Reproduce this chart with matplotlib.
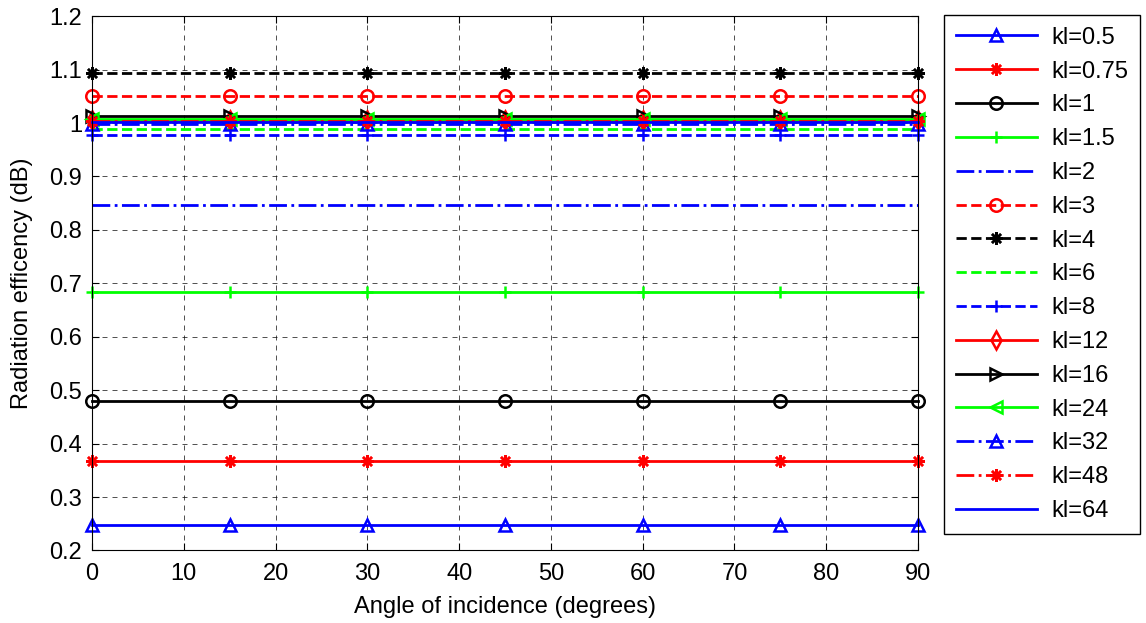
import matplotlib
matplotlib.use('Agg')
import matplotlib.pyplot as plt
import numpy as np

plt.rcParams['font.family'] = ['Liberation Sans', 'DejaVu Sans']
plt.rcParams['font.size'] = 17

# angles of incidence (degrees)
angles = [0, 15, 30, 45, 60, 75, 90]

# radiation efficiency per kl (constant over angle)
kl_labels = ['kl=0.5', 'kl=0.75', 'kl=1', 'kl=1.5', 'kl=2', 'kl=3', 'kl=4', 'kl=6',
             'kl=8', 'kl=12', 'kl=16', 'kl=24', 'kl=32', 'kl=48', 'kl=64']
kl_values = [0.248, 0.368, 0.479, 0.684, 0.847, 1.050, 1.093, 0.988,
             0.977, 1.006, 1.014, 1.008, 0.999, 1.004, 1.002]

ast = (8, 2, 0)  # MATLAB-like asterisk
# MATLAB-like styles: (color, linestyle, marker)
styles = [
    ('#0000ff', '-', '^'),
    ('#ff0000', '-', ast),
    ('#000000', '-', 'o'),
    ('#00ff00', '-', '+'),
    ('#0000ff', '-.', None),
    ('#ff0000', '--', 'o'),
    ('#000000', '--', ast),
    ('#00ff00', '--', None),
    ('#0000ff', '--', '+'),
    ('#ff0000', '-', 'd'),
    ('#000000', '-', '>'),
    ('#00ff00', '-', '<'),
    ('#0000ff', '-.', '^'),
    ('#ff0000', '-.', ast),
    ('#0000ff', '-', None),
]

fig = plt.figure(figsize=(11.46, 6.23), dpi=100)
ax = fig.add_axes([0.0803, 0.1164, 0.7208, 0.8576])

for lab, val, (c, ls, mk) in zip(kl_labels, kl_values, styles):
    ax.plot(angles, [val] * len(angles), color=c, linestyle=ls, marker=mk,
            markersize=9, markerfacecolor='none', markeredgecolor=c,
            markeredgewidth=1.8, linewidth=2, label=lab, clip_on=False)

ax.set_xlim(0, 90)
ax.set_ylim(0.2, 1.2)
ax.set_xticks(np.arange(0, 91, 10))
ax.set_yticks(np.arange(0.2, 1.21, 0.1))
ax.set_yticklabels(['0.2', '0.3', '0.4', '0.5', '0.6', '0.7', '0.8', '0.9', '1', '1.1', '1.2'])
ax.grid(True, color='black', linestyle=(0, (6, 6)), linewidth=0.6, alpha=0.8)
ax.tick_params(direction='in', length=5, top=True, right=True, labelsize=17)
ax.tick_params(axis='x', pad=9)
ax.tick_params(axis='y', pad=7)
ax.set_xlabel('Angle of incidence (degrees)', fontsize=17, labelpad=8)
ax.set_ylabel('Radiation efficency (dB)', fontsize=17, labelpad=12)

leg = fig.legend(loc='upper left', bbox_to_anchor=(0.8237, 0.976), fontsize=17,
                 frameon=True, fancybox=False, edgecolor='black', framealpha=1,
                 handlelength=3.45, labelspacing=0.5, borderpad=0.5,
                 handletextpad=0.6, borderaxespad=0)
leg.get_frame().set_linewidth(1.0)

fig.savefig('out.png', dpi=100)
